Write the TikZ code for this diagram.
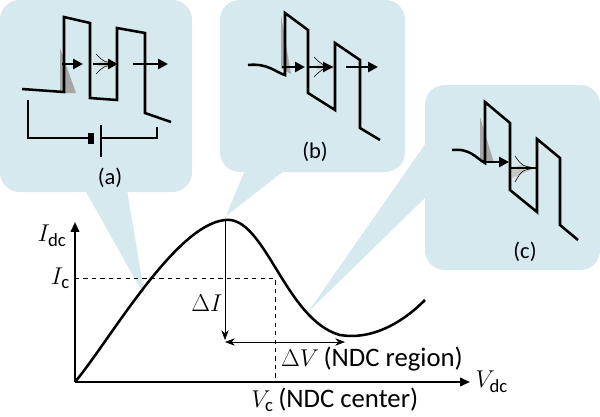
\documentclass[tikz,border=0pt]{standalone}
\usepackage{fontspec}
\setmainfont{Carlito}
\usepackage{amsmath}
\usetikzlibrary{calc,positioning,arrows.meta}
\definecolor{bubble}{RGB}{213,233,238}
\tikzset{
  band/.style={line width=1.8pt,line join=miter},
  tunnel/.style={line width=2pt,-{Triangle[length=7pt,width=7pt]}},
  packet/.style={fill=gray!70,draw=none},
  lbl/.style={font=\fontsize{16}{19}\selectfont},
  big/.style={font=\fontsize{19}{22}\selectfont},
}
\begin{document}
\begin{tikzpicture}[x=0.025cm,y=-0.025cm]
		\useasboundingbox (0,0) rectangle (600,416);
		% bubbles
		\fill[bubble,rounded corners=14pt] (0,0) rectangle (192,192);
		\fill[bubble] (85,190) -- (145,297) -- (127,190) -- cycle;
		\fill[bubble,rounded corners=14pt] (220,0) rectangle (405,172);
		\fill[bubble] (245,170) -- (226,216) -- (285,170) -- cycle;
		\fill[bubble,rounded corners=14pt] (425,85) rectangle (600,270);
		\fill[bubble] (428,140) -- (308,312) -- (428,195) -- cycle;
		% panel (a)
		\fill[packet] (60,48) -- (60,93) -- (76,93) -- cycle;
		\draw[band] (22,89) -- (64,92) -- (64,17) -- (90,23) -- (90,98) -- (117,100) -- (117,28) -- (145,33) -- (145,113) -- (171,122);
		\draw[tunnel] (62,64) -- (83,64);
		\fill[gray!40] (94,64) .. controls (104,60) .. (116,62) -- (116,66) .. controls (104,68) .. (94,64);
		\draw[thin] (96,54) .. controls (104,62) .. (116,64) .. controls (104,66) .. (96,74);
		\draw[tunnel] (93,64) -- (118,64);
		\draw[tunnel] (133,64) -- (168,64);
		\draw[line width=1.1pt] (28,100) -- (28,138) -- (88,138);
		\fill (88,133) rectangle (94,144);
		\draw[line width=1.1pt] (101,125) -- (101,157);
		\draw[line width=1.1pt] (101,138) -- (157,138) -- (157,127);
		\node[lbl] (la) at (110,178) {(a)};
		% panel (b)
		\fill[packet] (281,15) -- (281,68) -- (291,74) -- cycle;
		\draw[band] (248,65) .. controls (268,63) and (275,72) .. (285,75) -- (285,13) -- (308,30) -- (308,93) -- (335,110) -- (335,43) -- (360,60) -- (360,128) -- (380,140);
		\draw[tunnel] (282,67) -- (305,67);
		\fill[gray!40] (312,67) .. controls (322,63) .. (333,65) -- (333,69) .. controls (322,71) .. (312,67);
		\draw[thin] (314,57) .. controls (322,65) .. (333,67) .. controls (322,69) .. (314,77);
		\draw[tunnel] (308,67) -- (333,67);
		\draw[tunnel] (346,67) -- (378,67);
		\node[lbl] (lb) at (315,152) {(b)};
		% panel (c)
		\fill[packet] (480,117) -- (480,162) -- (494,163) -- cycle;
		\draw[band] (452,150) .. controls (470,148) and (476,158) .. (485,163) -- (485,102) -- (510,123) -- (510,190) -- (537,212) -- (537,139) -- (560,158) -- (560,225) -- (578,240);
		\draw[tunnel] (486,162) -- (509,162);
		\fill[gray!45] (512,168) .. controls (522,164) .. (535,168) .. controls (522,174) .. (512,178) -- cycle;
		\draw[thin] (515,156) .. controls (522,166) .. (536,168) .. controls (522,170) .. (515,182);
		\draw[line width=1.8pt] (510,168) -- (537,168);
		\node[lbl] (lc) at (525,252) {(c)};
		% I-V curve
		\coordinate (O) at (75,382);
		\coordinate (peak) at (225,220);
		\coordinate (valley) at (340,335);
		\coordinate (Cc) at (275,278);
		\draw[line width=1.8pt] (O) .. controls (110,340) and (175,225) .. (peak) .. controls (265,215) and (285,320) .. (valley) .. controls (370,340) and (400,325) .. (425,300);
		\draw[line width=1.4pt,-{Triangle[length=7pt,width=6pt]}] (O) -- (470,382) node[right,big] (vdc) {$V_{\mathrm{dc}}$};
		\draw[line width=1.4pt,-{Triangle[length=7pt,width=6pt]}] (O) -- (75,222) node[left,big,xshift=-2pt,yshift=-10pt] (idc) {$I_{\mathrm{dc}}$};
		\node[left,big] (ic) at (75,278) {$I_{\mathrm{c}}$};
		\draw[dashed] (O |- Cc) -- (Cc) -- (O -| Cc);
		\node[big,below right,xshift=-18pt,yshift=-3pt,inner sep=1pt] (vc) at (Cc |- O) {$V_{\mathrm{c}}$\,(NDC center)};
		\draw[-{Stealth[length=7pt]}] (peak) -- (225,340);
		\draw[{Stealth[length=7pt]}-{Stealth[length=7pt]}] (225,342) -- (345,342);
		\node[big] (di) at (207,303) {$\Delta I$};
		\node[big] (dv) at (372,359) {$\Delta V$\,(NDC region)};
\end{tikzpicture}
\end{document}
